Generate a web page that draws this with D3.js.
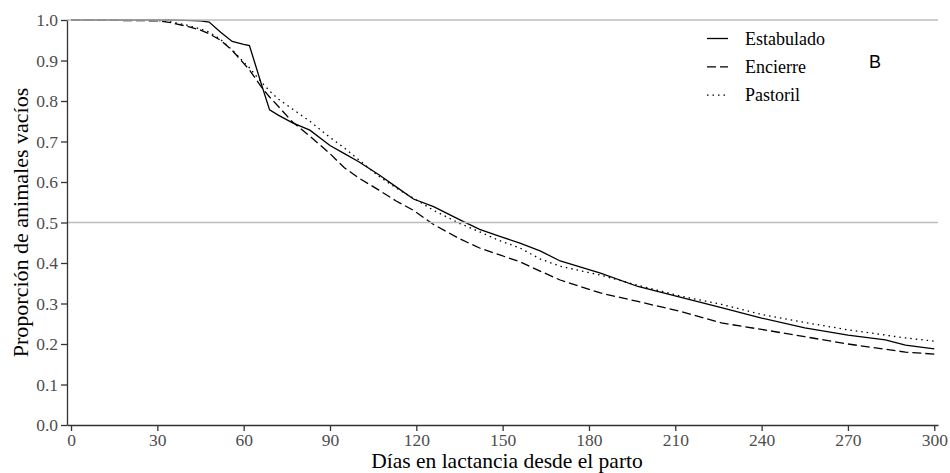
<!DOCTYPE html>
<meta charset="utf-8">
<style>
	body { margin: 0; background: #fff; }
	.axis path, .axis line { stroke: #333; stroke-width: 1.3px; }
	.curve { fill: none; stroke: #000; stroke-width: 1.3px; }
</style>
<body>
<script src="https://cdn.jsdelivr.net/npm/d3@7"></script>
<script>

// Data
var days = [0, 30, 35, 40, 45, 48, 52, 56, 60, 62, 66, 69, 72, 77, 83, 90, 95, 100, 107, 113, 119, 126, 135, 142, 149, 156, 163, 170, 184, 197, 212, 226, 240, 255, 270, 283, 290, 300];

var estabulado = [1, 1, 1, 0.999, 0.998, 0.995, 0.97, 0.947, 0.94, 0.937, 0.845, 0.778, 0.765, 0.746, 0.728, 0.69, 0.67, 0.65, 0.618, 0.588, 0.558, 0.539, 0.507, 0.483, 0.466, 0.449, 0.43, 0.405, 0.375, 0.342, 0.315, 0.29, 0.264, 0.24, 0.222, 0.21, 0.197, 0.188];
var encierre = [1, 0.998, 0.993, 0.985, 0.975, 0.966, 0.95, 0.925, 0.893, 0.877, 0.836, 0.81, 0.787, 0.748, 0.713, 0.67, 0.635, 0.61, 0.58, 0.553, 0.53, 0.495, 0.46, 0.437, 0.42, 0.403, 0.38, 0.358, 0.326, 0.305, 0.28, 0.252, 0.236, 0.218, 0.2, 0.187, 0.18, 0.175];
var pastoril = [1, 0.999, 0.995, 0.988, 0.978, 0.97, 0.952, 0.926, 0.896, 0.882, 0.848, 0.825, 0.805, 0.78, 0.75, 0.71, 0.684, 0.655, 0.614, 0.585, 0.56, 0.53, 0.498, 0.477, 0.455, 0.437, 0.41, 0.392, 0.37, 0.345, 0.318, 0.298, 0.273, 0.253, 0.235, 0.222, 0.215, 0.207];

var seriesNames = ["Estabulado", "Encierre", "Pastoril"];
var seriesValues = [estabulado, encierre, pastoril];
var dashes = ["none", "9,4", "1.5,4"];

var xTicks = [0, 30, 60, 90, 120, 150, 180, 210, 240, 270, 300];
var yTicks = [0, 0.1, 0.2, 0.3, 0.4, 0.5, 0.6, 0.7, 0.8, 0.9, 1.0];
var refLines = [0.5, 1.0];

var serif = "'Liberation Serif', 'Times New Roman', serif";
var width = 950, height = 473;

var svg = d3.select("body").append("svg")
	.attr("width", width)
	.attr("height", height);

// Scales
var x = d3.scaleLinear().domain([-1.4, 301.3]).range([67, 938]);
var y = d3.scaleLinear().domain([0, 1]).range([425, 20]);

var line = d3.line()
	.x(function(d) { return x(d[0]); })
	.y(function(d) { return y(d[1]); });

// Curves
seriesValues.forEach(function(vals, i) {
	svg.append("path")
		.datum(days.map(function(d, j) { return [d, vals[j]]; }))
		.attr("class", "curve")
		.attr("stroke-dasharray", dashes[i])
		.attr("d", line);
});

// Reference lines
svg.selectAll(".ref")
	.data(refLines)
	.enter().append("line")
	.attr("x1", 67).attr("x2", 938)
	.attr("y1", function(d) { return y(d); })
	.attr("y2", function(d) { return y(d); })
	.attr("stroke", "#bdbdbd")
	.attr("stroke-width", 1.6);

// Axes
function styleTicks(g) {
	g.selectAll(".tick text")
		.style("font-family", serif)
		.style("font-size", "17.5px")
		.attr("fill", "#4d4d4d");
}

svg.append("g")
	.attr("class", "axis")
	.attr("transform", "translate(0," + 425 + ")")
	.call(d3.axisBottom(x).tickValues(xTicks).tickSizeOuter(0).tickFormat(d3.format("d")))
	.call(styleTicks);

svg.append("g")
	.attr("class", "axis")
	.attr("transform", "translate(67,0)")
	.call(d3.axisLeft(y).tickValues(yTicks).tickSizeOuter(0).tickFormat(d3.format(".1f")))
	.call(styleTicks);

// Axis titles
svg.append("text")
	.attr("x", 507)
	.attr("y", 468)
	.style("text-anchor", "middle")
	.style("font-family", serif)
	.style("font-size", "21.5px")
	.text("Días en lactancia desde el parto");

svg.append("text")
	.attr("transform", "translate(28," + 222.5 + ") rotate(-90)")
	.style("text-anchor", "middle")
	.style("font-family", serif)
	.style("font-size", "22px")
	.text("Proporción de animales vacíos");

// Legend
var legend = svg.selectAll(".legend")
	.data(seriesNames)
	.enter().append("g")
	.attr("transform", function(d, i) { return "translate(707," + (38.5 + i * 28.3) + ")"; });

legend.append("line")
	.attr("x1", 0).attr("x2", 21)
	.attr("stroke", "#000")
	.attr("stroke-width", 1.3)
	.attr("stroke-dasharray", function(d, i) { return dashes[i]; });

legend.append("text")
	.attr("x", 38)
	.attr("y", 6)
	.style("font-family", serif)
	.style("font-size", "18px")
	.text(function(d) { return d; });

// Panel letter
svg.append("text")
	.attr("x", 869)
	.attr("y", 68)
	.style("font-family", "'Liberation Sans', Arial, sans-serif")
	.style("font-size", "18px")
	.text("B");

</script>
</body>
